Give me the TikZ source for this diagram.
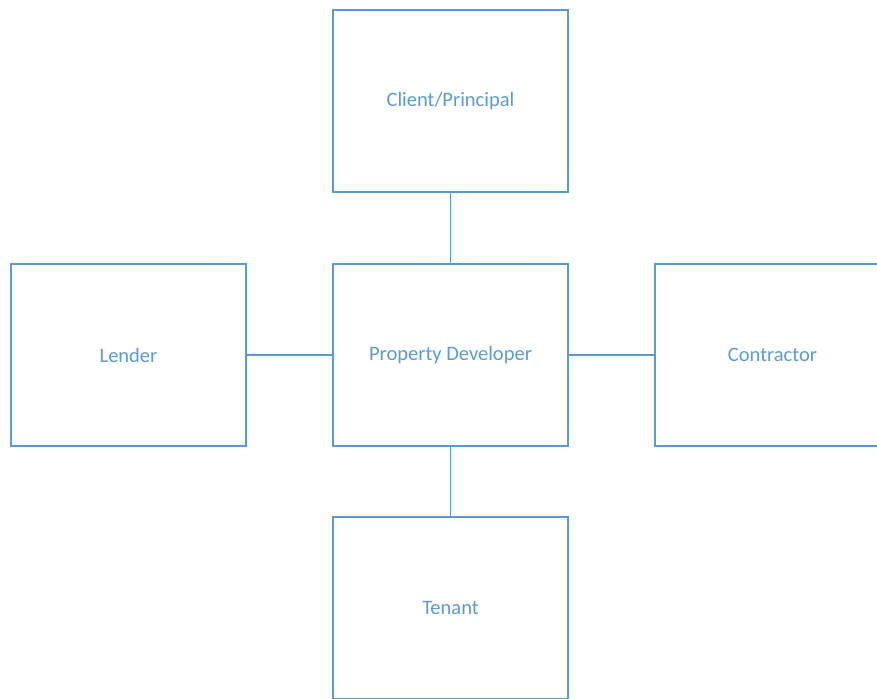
\documentclass[tikz,border=0pt]{standalone}
\usepackage{fontspec}
\setmainfont{Carlito}
\usetikzlibrary{positioning}
\definecolor{officeblue}{HTML}{5B9BD5}

\tikzset{
  party/.style={draw=officeblue, line width=1.4pt, text=officeblue,
    minimum width=235pt, minimum height=182pt, inner sep=0pt, outer sep=0pt,
    font=\fontsize{20.5}{24}\selectfont},
  link/.style={draw=officeblue, line width=1.4pt}
}

\begin{document}
\begin{tikzpicture}[x=1pt,y=1pt]
\useasboundingbox (0,0) rectangle (877,-698);

% the developer sits in the middle
\node[party] (dev) at (450.5,-355) {Property Developer};
\node[party, above=72pt of dev] (client) {Client/Principal};
\node[party, below=71pt of dev] (tenant) {Tenant};
\node[party, left=87pt of dev] (lender) {Lender};
\node[party, right=87pt of dev] (contractor) {Contractor};

\foreach \other in {client,tenant,lender,contractor}{
  \draw[link] (dev) -- (\other);
}
\end{tikzpicture}
\end{document}
